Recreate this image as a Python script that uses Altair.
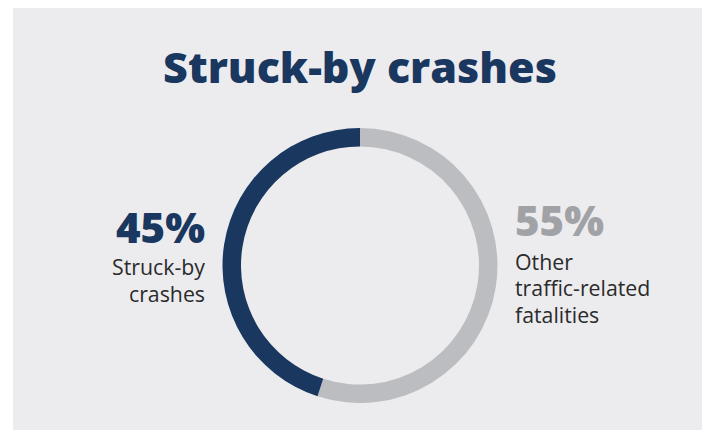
import altair as alt
import pandas as pd

# Data
categories = ["Other traffic-related fatalities", "Struck-by crashes"]
shares = [55, 45]
order = [1, 2]
colors = ["#bcbdc1", "#1a375f"]

pct_labels = ["45%", "55%"]
pct_colors = ["#1a375f", "#a1a2a6"]
left_lines = "Struck-by\ncrashes"
right_lines = "Other\ntraffic-related\nfatalities"
title_text = "Struck-by crashes"

W, H = 694, 422
CX, CY = 352, 257.5

df = pd.DataFrame({"category": categories, "share": shares, "order": order})

panel = alt.Chart(pd.DataFrame({"a": [0]})).mark_rect(color="#ececef").encode(
    x=alt.value(5), x2=alt.value(W + 10), y=alt.value(-2), y2=alt.value(H + 10)
)

ring = alt.Chart(df).mark_arc(outerRadius=137.5, innerRadius=119, stroke=None).encode(
    theta=alt.Theta("share:Q", stack=True),
    order=alt.Order("order:Q"),
    color=alt.Color("category:N", scale=alt.Scale(domain=categories, range=colors), legend=None),
    x=alt.value(CX),
    y=alt.value(CY),
)

def txt(text, x, y, size, weight, color, align, line_height=None):
    kw = {}
    if line_height is not None:
        kw["lineHeight"] = line_height
    return alt.Chart(pd.DataFrame({"t": [text]})).mark_text(
        font="Open Sans", fontSize=size, fontWeight=weight, color=color,
        align=align, baseline="alphabetic", lineBreak="\n", **kw
    ).encode(text="t:N", x=alt.value(x), y=alt.value(y))

title = txt(title_text, CX, 75, 43, 800, "#1a375f", "center")
p45 = txt(pct_labels[0], 197, 235, 42, 800, pct_colors[0], "right")
p55 = txt(pct_labels[1], 507, 228, 42, 800, pct_colors[1], "left")
l_left = txt(left_lines, 197, 267, 21.3, 400, "#2b2b2b", "right", 27)
l_right = txt(right_lines, 507, 261.5, 21.3, 400, "#2b2b2b", "left", 26.5)

chart = alt.layer(panel, ring, title, p45, p55, l_left, l_right).properties(
    width=W, height=H, autosize=alt.AutoSizeParams(type="none"), padding=0,
    background="white",
).configure_view(stroke=None)

chart.save("out.html", embed_options={"renderer": "svg", "actions": False})
